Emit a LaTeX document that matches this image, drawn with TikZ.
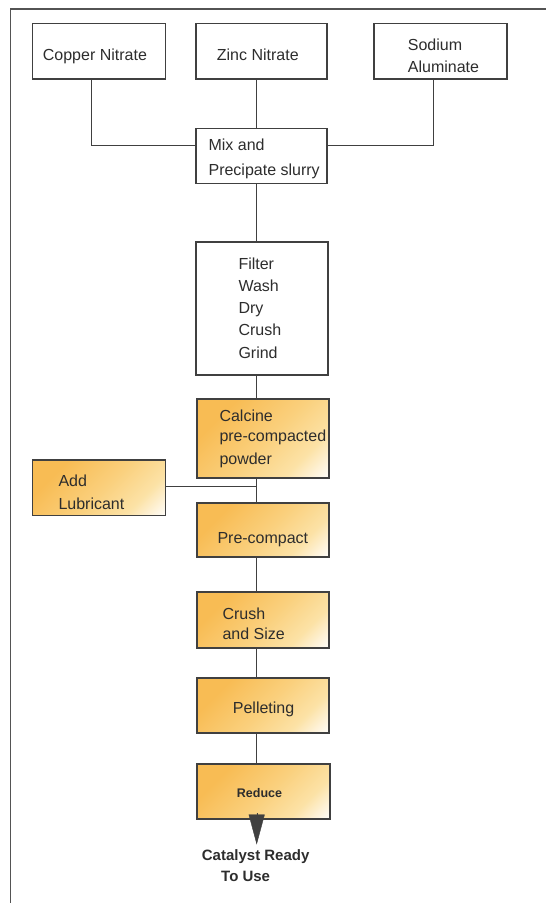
\documentclass[tikz,border=0pt]{standalone}
\usepackage{fontspec}
\setmainfont{Liberation Sans}
\usetikzlibrary{arrows.meta}
\definecolor{oraD}{RGB}{248,188,84}
\definecolor{oraM}{RGB}{250,208,125}
\definecolor{oraL}{RGB}{252,226,166}
\definecolor{oraW}{RGB}{254,244,222}
\definecolor{lin}{RGB}{64,64,64}
\definecolor{txt}{RGB}{45,45,45}
\pgfdeclareverticalshading{orshade}{100bp}{color(0bp)=(white); color(14bp)=(white); color(20bp)=(oraW); color(30bp)=(oraL); color(48bp)=(oraM); color(72bp)=(oraD); color(100bp)=(oraD)}
\tikzset{
  wbox/.style={draw=lin, line width=1.3pt, fill=white, rectangle, inner sep=0pt},
  obox/.style={draw=lin, line width=1.3pt, rectangle, inner sep=0pt, shading=orshade, shading angle=45},
  conn/.style={draw=lin, line width=1.3pt},
  frame/.style={draw=lin!90, line width=1.6pt},
  lbl/.style={anchor=base west, inner sep=0pt, text=txt, font=\fontsize{16}{18}\selectfont},
  blbl/.style={anchor=base west, inner sep=0pt, text=txt, font=\fontsize{15}{18}\selectfont\bfseries},
  slbl/.style={anchor=base west, inner sep=0pt, text=txt, font=\fontsize{12.5}{15}\selectfont\bfseries},
  tipc/.style={draw=lin, fill=lin, line width=0.4pt, -{Triangle[length=30pt,width=16pt]}}
}
\begin{document}
\begin{tikzpicture}[x=1pt,y=-1pt]
\useasboundingbox (0,0) rectangle (546,903);
\draw[frame] (546,8.7) -- (10.4,8.7) -- (10.4,903);

% boxes
\node[wbox, minimum width=133pt, minimum height=55.7pt] (copper) at (98.7,51.2) {};
\node[wbox, minimum width=131pt, minimum height=55.7pt] (zinc) at (261.5,51.2) {};
\node[wbox, minimum width=133pt, minimum height=55.7pt] (sodium) at (440.5,51.2) {};
\node[wbox, minimum width=131pt, minimum height=55pt] (mix) at (261.5,155.8) {};
\node[wbox, minimum width=132pt, minimum height=133pt] (filter) at (262,308.5) {};
\node[obox, minimum width=132pt, minimum height=79pt] (calcine) at (263,438.5) {};
\node[obox, minimum width=133.4pt, minimum height=55.7pt] (lub) at (99,487.9) {};
\node[obox, minimum width=132pt, minimum height=54pt] (precomp) at (263,530) {};
\node[obox, minimum width=132pt, minimum height=56pt] (crush) at (263,620) {};
\node[obox, minimum width=132pt, minimum height=55pt] (pellet) at (263,705.5) {};
\node[obox, minimum width=133pt, minimum height=55pt] (reduce) at (263.5,791.5) {};

% texts
\node[lbl] (tcopper) at (42.7,60) {Copper Nitrate};
\node[lbl] (tzinc) at (216.7,60) {Zinc Nitrate};
\node[lbl] (tsod1) at (407.7,50) {Sodium};
\node[lbl] (tsod2) at (407.7,72.7) {Aluminate};
\node[lbl] (tmix1) at (208.4,150.7) {Mix and};
\node[lbl] (tmix2) at (208.4,175.7) {Precipate slurry};
\node[lbl] (tf1) at (238.3,269) {Filter};
\node[lbl] (tf2) at (238.3,291.3) {Wash};
\node[lbl] (tf3) at (238.3,313.6) {Dry};
\node[lbl] (tf4) at (238.3,335.9) {Crush};
\node[lbl] (tf5) at (238.3,358.2) {Grind};
\node[lbl] (tc1) at (219.3,421.7) {Calcine};
\node[lbl] (tc2) at (219.3,441.7) {pre-compacted};
\node[lbl] (tc3) at (219.3,464.3) {powder};
\node[lbl] (tl1) at (58.3,486.7) {Add};
\node[lbl] (tl2) at (58.3,509) {Lubricant};
\node[lbl] (tpc) at (217.3,543.3) {Pre-compact};
\node[lbl] (tcr1) at (222.3,619) {Crush};
\node[lbl] (tcr2) at (222.3,639.3) {and Size};
\node[lbl] (tpel) at (232.7,713.3) {Pelleting};
\node[slbl] (tred) at (236.7,797.3) {Reduce};
\node[blbl] (tcat1) at (201.7,860.7) {Catalyst Ready};
\node[blbl] (tcat2) at (221,881.7) {To Use};

% connectors
\coordinate (col) at (256.7,0);
\coordinate (cucol) at (91.7,0);
\coordinate (nacol) at (433.5,0);
\path ([yshift=10.1pt]mix.west) coordinate (mixW);
\path ([yshift=10.1pt]mix.east) coordinate (mixE);
\path ([yshift=1.2pt]lub.east) coordinate (lubE);
\draw[conn] (cucol |- copper.south) |- (mixW);
\draw[conn] (col |- zinc.south) -- (col |- mix.north);
\draw[conn] (nacol |- sodium.south) |- (mixE);
\draw[conn] (col |- mix.south) -- (col |- filter.north);
\draw[conn] (col |- filter.south) -- (col |- calcine.north);
\draw[conn] (col |- calcine.south) -- (col |- precomp.north);
\draw[conn] (lubE) -- (col |- lubE);
\draw[conn] (col |- precomp.south) -- (col |- crush.north);
\draw[conn] (col |- crush.south) -- (col |- pellet.north);
\draw[conn] (col |- pellet.south) -- (col |- reduce.north);
\coordinate (atop) at (256.7,813.3);
\coordinate (tip) at (256.7,844.5);
\draw[tipc] (atop) -- (tip);
\end{tikzpicture}
\end{document}
